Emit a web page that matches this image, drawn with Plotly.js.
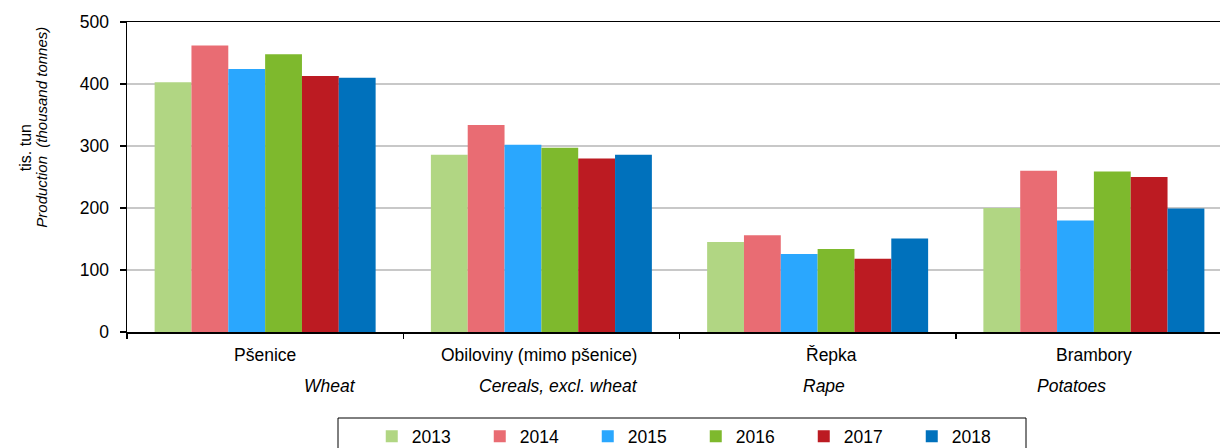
<!DOCTYPE html>
<html>
<head>
<meta charset="utf-8">
<script src="https://cdn.plot.ly/plotly-3.0.1.min.js"></script>
<style>
html,body{margin:0;padding:0;overflow:hidden;background:#fff;}
#chart{width:1240px;height:448px;}
</style>
</head>
<body>
<div id="chart"></div>
<script>
// Data
const categories = ["Pšenice", "Obiloviny (mimo pšenice)", "Řepka", "Brambory"];
const categoriesEn = ["Wheat", "Cereals, excl. wheat", "Rape", "Potatoes"];
const years = ["2013", "2014", "2015", "2016", "2017", "2018"];
const v2013 = [403, 286, 145, 200];
const v2014 = [462, 334, 156, 260];
const v2015 = [424, 302, 126, 180];
const v2016 = [448, 297, 134, 259];
const v2017 = [413, 280, 118, 250];
const v2018 = [410, 286, 151, 199];
const yTicks = [0, 100, 200, 300, 400, 500];

const seriesValues = [v2013, v2014, v2015, v2016, v2017, v2018];
const colors = ["#b1d683", "#e96c73", "#2aa7fe", "#7eb92d", "#bc1b22", "#0071bc"];

const FONT = "Liberation Sans, Arial, sans-serif";

const traces = years.map((y, i) => ({
  type: "bar",
  name: y,
  x: categories,
  y: seriesValues[i],
  marker: {color: colors[i], line: {width: 0}},
  hoverinfo: "x+y+name"
}));

// label offsets (pixels) relative to category centers
const czShift = [0, -2, 14, 0];
const enShift = [65, 17, 6, -22];

const annotations = [];
categories.forEach((c, i) => {
  annotations.push({
    x: c, xref: "x", y: -0.075, yref: "paper",
    text: c, showarrow: false, xanchor: "center", yanchor: "middle",
    xshift: czShift[i],
    font: {family: FONT, size: 17.5, color: "#000"}
  });
  annotations.push({
    x: c, xref: "x", y: -0.175, yref: "paper",
    text: "<i>" + categoriesEn[i] + "</i>", showarrow: false, xanchor: "center", yanchor: "middle",
    xshift: enShift[i],
    font: {family: FONT, size: 17.5, color: "#000"}
  });
});
// y-axis titles
annotations.push({
  x: 0, xref: "paper", xshift: -102, y: 0.593, yref: "paper",
  text: "tis. tun", textangle: -90, showarrow: false,
  xanchor: "center", yanchor: "middle",
  font: {family: FONT, size: 16, color: "#000"}
});
annotations.push({
  x: 0, xref: "paper", xshift: -85, y: 0.659, yref: "paper",
  text: "<i>Production  (thousand tonnes)</i>", textangle: -90, showarrow: false,
  xanchor: "center", yanchor: "middle",
  font: {family: FONT, size: 15, color: "#000"}
});

const layout = {
  width: 1240, height: 448,
  margin: {l: 127, r: 8, t: 22, b: 116, autoexpand: false},
  paper_bgcolor: "#fff", plot_bgcolor: "#fff",
  barmode: "group", bargap: 0.2, bargroupgap: 0,
  font: {family: FONT, size: 17.5, color: "#000"},
  showlegend: true,
  legend: {
    orientation: "h", x: 0.2215, y: -0.2787, xanchor: "left", yanchor: "top",
    bgcolor: "rgba(0,0,0,0)", borderwidth: 0,
    font: {family: FONT, size: 17.5, color: "#000"},
    entrywidth: 63, entrywidthmode: "pixels", itemwidth: 30
  },
  xaxis: {
    type: "category",
    showticklabels: false,
    showline: true, linecolor: "#000", linewidth: 1.5, mirror: true,
    ticks: "outside", tickson: "boundaries", ticklen: 5, tickcolor: "#000", tickwidth: 1.5,
    showgrid: false, zeroline: false, fixedrange: true, automargin: false
  },
  yaxis: {
    range: [0, 500],
    tickvals: yTicks, ticktext: yTicks.map(String),
    showline: true, linecolor: "#000", linewidth: 1.5,
    ticks: "outside", ticklen: 6, tickcolor: "#000", tickwidth: 1.5,
    ticklabelstandoff: 7,
    showgrid: true, gridcolor: "#c8c8c8", gridwidth: 1.2,
    zeroline: false, automargin: false,
    tickfont: {family: FONT, size: 17.5, color: "#000"},
    fixedrange: true
  },
  shapes: [{
    type: "rect", xref: "paper", yref: "paper",
    x0: (338 - 127) / 1105, x1: (1026 - 127) / 1105,
    y0: (332 - 470) / 310, y1: (332 - 418) / 310,
    line: {color: "#000", width: 1}, fillcolor: "rgba(0,0,0,0)", layer: "below"
  }],
  annotations: annotations
};

Plotly.newPlot("chart", traces, layout, {displayModeBar: false, staticPlot: true});
</script>
</body>
</html>
